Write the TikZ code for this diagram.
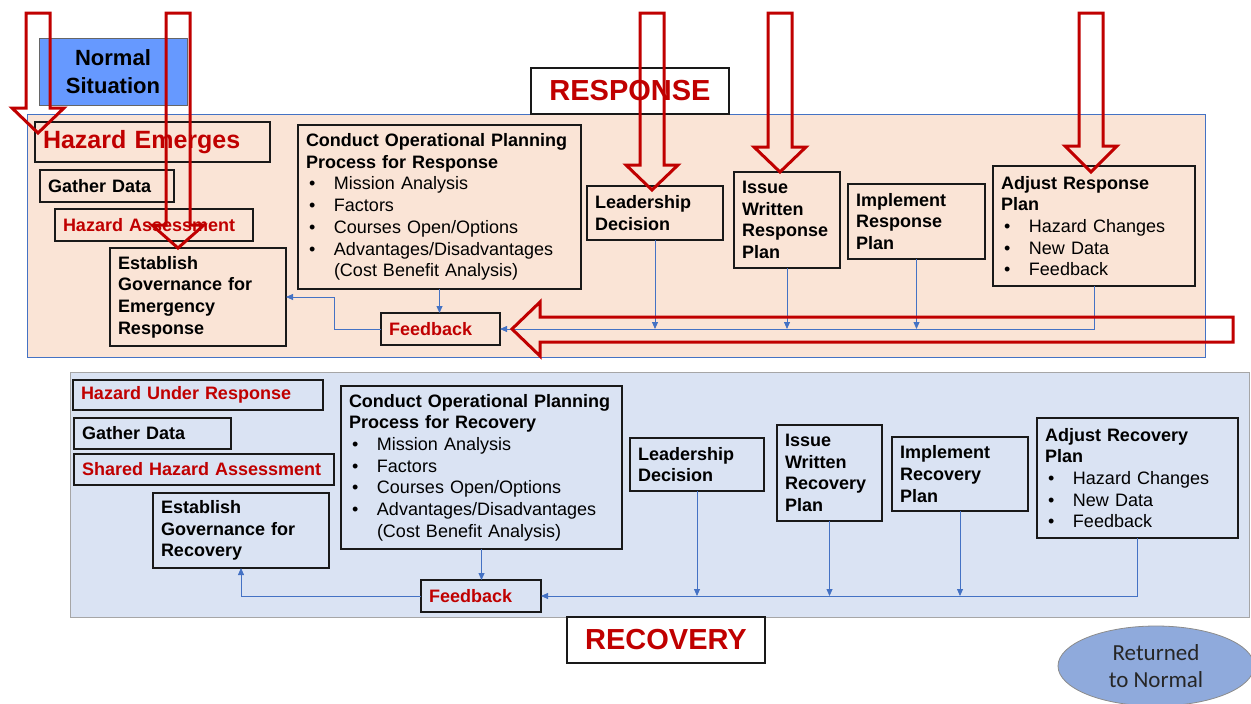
\documentclass[tikz,border=0pt]{standalone}
\usepackage{fontspec}
\setmainfont{Liberation Sans}
\newfontfamily\ovalfont{Carlito}
\usetikzlibrary{positioning}
\usetikzlibrary{arrows.meta}
\usetikzlibrary{shapes.geometric}

\definecolor{hazred}{HTML}{C00000}
\definecolor{flowblue}{HTML}{4472C4}
\definecolor{peach}{HTML}{FAE4D6}
\definecolor{paleblue}{HTML}{DAE3F3}
\definecolor{normblue}{HTML}{6699FF}
\definecolor{ovalblue}{HTML}{8FAADC}

\newcommand{\boxfont}{\fontsize{18}{21.7}\selectfont\bfseries}
\newcommand{\bul}[1]{\hspace*{3pt}\makebox[25pt][l]{\mdseries\textbullet}{\mdseries #1}}
\newcommand{\cont}[1]{\hspace*{28pt}{\mdseries #1}}

\begin{document}
\begin{tikzpicture}[x=1pt, y=-1pt, >={Triangle[length=7pt, width=6pt]}, font=\boxfont]
    \tikzstyle{block}=[draw=black!90, line width=1.8pt, rectangle, anchor=north west, inner xsep=8pt, inner ysep=0pt, outer sep=0pt, align=left]
    \tikzstyle{redblock}=[block, text=hazred]
    \tikzstyle{phase}=[draw=black!90, line width=1.8pt, fill=white, anchor=north west, minimum width=198pt, minimum height=46pt, outer sep=0pt, text=hazred, font=\fontsize{29}{34}\selectfont\bfseries]
    \tikzstyle{flow}=[->, draw=flowblue, line width=0.8pt]
    \tikzstyle{hollow}=[draw=hazred, line width=3pt]

    \clip (0,0) rectangle (1251,704);
    \fill[white] (0,0) rectangle (1251,704);

    % phase areas
    \draw[fill=peach, draw=flowblue, line width=1pt] (27,114) rectangle (1205,357);
    \draw[fill=paleblue, draw=black!35, line width=1pt] (70,372) rectangle (1249,617);

    \node[draw=black!60, fill=normblue, line width=0.8pt, anchor=north west, outer sep=0pt, minimum width=148pt, minimum height=67pt, align=center, font=\fontsize{22}{28}\selectfont\bfseries] (normal) at (39,38) {Normal\\Situation};
    \node[phase] (resp) at (531,68) {RESPONSE};
    \node[phase] (recov) at (567,617) {RECOVERY};

    % response
    \node[redblock, text width=219pt, minimum height=40pt, font=\fontsize{25}{30}\selectfont\bfseries] (hazE) at (35,122) {Hazard Emerges};
    \node[block, text width=118pt, minimum height=32pt] (gathT) at (40,170) {Gather Data};
    \node[redblock, text width=182pt, minimum height=32pt] (hazA) at (55,209) {Hazard Assessment};
    \node[block, text width=160pt, minimum height=98pt] (govT) at (110,248) {Establish\\Governance for\\Emergency\\Response};
    \node[block, text width=267pt, minimum height=164pt] (copT) at (298,125) {Conduct Operational Planning\\Process for Response\\\bul{Mission Analysis}\\\bul{Factors}\\\bul{Courses Open/Options}\\\bul{Advantages/Disadvantages}\\\cont{(Cost Benefit Analysis)}};
    \node[redblock, text width=103pt, minimum height=32pt] (fbT) at (381,313) {Feedback};
    \node[block, text width=120pt, minimum height=54pt] (leadT) at (587,186) {Leadership\\Decision};
    \node[block, text width=90pt, minimum height=96pt] (issueT) at (734,172) {Issue\\Written\\Response\\Plan};
    \node[block, text width=121pt, minimum height=75pt] (implT) at (848,184) {Implement\\Response\\Plan};
    \node[block, text width=186pt, minimum height=120pt] (adjT) at (993,166) {Adjust Response\\Plan\\\bul{Hazard Changes}\\\bul{New Data}\\\bul{Feedback}};

    % recovery
    \node[redblock, text width=234pt, minimum height=30pt] (hurB) at (73,380) {Hazard Under Response};
    \node[block, text width=141pt, minimum height=31pt] (gathB) at (74,418) {Gather Data};
    \node[redblock, text width=244pt, minimum height=31pt] (shaB) at (74,454) {Shared Hazard Assessment};
    \node[block, text width=160pt, minimum height=75pt] (govB) at (153,493) {Establish\\Governance for\\Recovery};
    \node[block, text width=265pt, minimum height=163pt] (copB) at (341,386) {Conduct Operational Planning\\Process for Recovery\\\bul{Mission Analysis}\\\bul{Factors}\\\bul{Courses Open/Options}\\\bul{Advantages/Disadvantages}\\\cont{(Cost Benefit Analysis)}};
    \node[redblock, text width=104pt, minimum height=32pt] (fbB) at (421,580) {Feedback};
    \node[block, text width=118pt, minimum height=53pt] (leadB) at (630,438) {Leadership\\Decision};
    \node[block, text width=89pt, minimum height=96pt] (issueB) at (777,425) {Issue\\Written\\Recovery\\Plan};
    \node[block, text width=120pt, minimum height=74pt] (implB) at (892,437) {Implement\\Recovery\\Plan};
    \node[block, text width=185pt, minimum height=120pt] (adjB) at (1037,418) {Adjust Recovery\\Plan\\\bul{Hazard Changes}\\\bul{New Data}\\\bul{Feedback}};

    \node[ellipse, draw=black!45, line width=0.8pt, fill=ovalblue, minimum width=196pt, minimum height=80pt, inner sep=0pt, align=center, font=\ovalfont\fontsize{23}{27}\selectfont, text=black!85] (backnormal) at (1156,666) {Returned\\to Normal};

    % feedback loops
    \draw[flow] (copT.south) -- (copT.south |- fbT.north);
    \draw[flow] (fbT.west) -- ++(-47,0) |- (govT.east);
    \draw[flow] (adjT.south) |- (fbT.east);
    \foreach \n in {leadT, issueT, implT}
        \draw[flow] (\n.south) -- (\n.south |- fbT.east);

    \draw[flow] (copB.south) -- (copB.south |- fbB.north);
    \draw[flow] (fbB.west) -| (govB.south);
    \draw[flow] (adjB.south) |- (fbB.east);
    \foreach \n in {leadB, issueB, implB}
        \draw[flow] (\n.south) -- (\n.south |- fbB.east);

    % hollow red arrows
    \foreach \cx/\hb/\tip in {38/108/133, 178/225/248, 652/165/190, 780/147/172, 1091/146/172}
        \draw[hollow] (\cx-12,13) -- (\cx+12,13) -- (\cx+12,\hb) -- (\cx+26,\hb) -- (\cx,\tip) -- (\cx-26,\hb) -- (\cx-12,\hb) -- cycle;
    \draw[hollow] (512,329) -- (540,302) -- (540,317) -- (1233,317) -- (1233,342) -- (540,342) -- (540,356) -- cycle;
\end{tikzpicture}
\end{document}
